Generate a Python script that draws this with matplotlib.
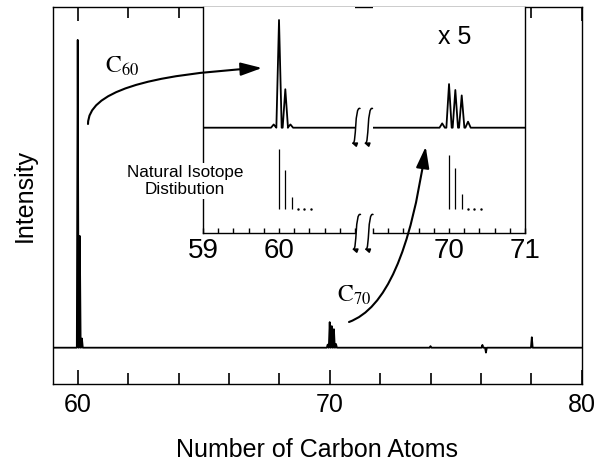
import matplotlib.pyplot as plt
from matplotlib.patches import FancyArrowPatch
from matplotlib.path import Path
from matplotlib.ticker import MultipleLocator

plt.rcParams['font.family'] = ['Liberation Sans', 'DejaVu Sans']
plt.rcParams['mathtext.fontset'] = 'stix'

# main spectrum, peaks on a flat baseline (C60 peak = 100)
main_pos = [60.0, 60.083, 60.167, 69.92, 70.0, 70.083, 70.167, 70.25, 74.0, 76.06, 76.2, 78.02]
main_height = [100, 36.3, 3.0, 1.0, 8.3, 7.0, 6.0, 1.2, 0.5, 0.9, -1.6, 3.4]

# inset trace, x5 (C60 peak = 1)
c60_pos = [59.93, 60.0, 60.083, 60.15]
c60_height = [0.03, 1.0, 0.357, 0.03]
c70_pos = [69.91, 70.0, 70.083, 70.167, 70.25]
c70_height = [0.04, 0.405, 0.35, 0.30, 0.056]

# natural isotope distribution (0, 1, 2 x 13C)
iso60_pos = [60.0, 60.083, 60.167]
iso60_frac = [0.524, 0.340, 0.109]
iso70_pos = [70.0, 70.083, 70.167]
iso70_frac = [0.471, 0.357, 0.133]
iso60_more = [60.25, 60.333, 60.417]
iso70_more = [70.25, 70.333, 70.417]


def trace(pos, height, lo, hi, w):
    # baseline with a narrow peak at every position
    xs, ys = [lo], [0]
    for p, h in zip(pos, height):
        xs += [p - w, p, p + w]
        ys += [0, h, 0]
    xs.append(hi)
    ys.append(0)
    return xs, ys


def fpos(px, py):
    # reference pixel -> figure fraction
    return px / 612, 1 - py / 466


fig = plt.figure(figsize=(6.12, 4.66), dpi=100)

ax = fig.add_axes([0.0858, 0.1753, 0.8647, 0.8097])
x, y = trace(main_pos, main_height, 59, 80, 0.035)
ax.plot(x, y, color='k', lw=1.3)
ax.set_xlim(59, 80)
ax.set_ylim(-11.9, 110.7)
ax.set_xticks([60, 70, 80])
ax.xaxis.set_minor_locator(MultipleLocator(2))
ax.xaxis.set_ticks_position('both')
ax.set_yticks([])
ax.tick_params(axis='x', which='both', direction='in', top=True, bottom=True,
               labelsize=18, pad=6.5, width=1.2, color='k')
ax.tick_params(axis='x', which='major', length=10)
ax.tick_params(axis='x', which='minor', length=8)
for s in ax.spines.values():
    s.set_linewidth(1)
ax.set_xlabel('Number of Carbon Atoms', fontsize=18, labelpad=15)
ax.set_ylabel('Intensity', fontsize=18, labelpad=11)

# broken inset: two panels 59-61 and 69-71
inL = fig.add_axes([0.3317, 0.5, 0.2484, 0.485])
inR = fig.add_axes([0.6095, 0.5, 0.2484, 0.485])
panels = [
    (inL, (59, 61), c60_pos, c60_height, iso60_pos, iso60_frac, iso60_more, [59, 60]),
    (inR, (69, 71), c70_pos, c70_height, iso70_pos, iso70_frac, iso70_more, [70, 71]),
]
stick_base = -0.758
stick_scale = 1.077
for a, lim, pos, hts, ipos, ifrac, imore, ticks in panels:
    x, y = trace(pos, hts, lim[0], lim[1], 0.035)
    a.plot(x, y, color='k', lw=1.3)
    a.vlines(ipos, stick_base, [stick_base + stick_scale * f for f in ifrac],
             color='k', lw=0.9)
    a.plot(imore, [stick_base] * len(imore), 'k.', ms=1.5)
    a.set_xlim(*lim)
    a.set_ylim(-0.978, 1.121)
    a.set_xticks(ticks)
    a.xaxis.set_minor_locator(MultipleLocator(0.2))
    a.set_yticks([])
    a.tick_params(axis='x', which='both', direction='in', length=3.6,
                  labelsize=20, pad=3.5, width=1)
    a.spines['top'].set_visible(False)
    for s in a.spines.values():
        s.set_linewidth(1)
inL.spines['right'].set_visible(False)
inR.spines['left'].set_visible(False)

# break marks
for cx, cy in [(355.5, 125.5), (368, 125.5), (356, 231.5), (368.5, 231.5)]:
    verts = [fpos(cx + 4.5, cy - 17), fpos(cx - 1, cy - 20),
             fpos(cx + 1, cy + 19), fpos(cx - 4.5, cy + 17)]
    sq = FancyArrowPatch(path=Path(verts, [Path.MOVETO, Path.CURVE4, Path.CURVE4, Path.CURVE4]),
                         arrowstyle='-|>,head_length=3,head_width=1.2',
                         transform=fig.transFigure, color='k', lw=1.1)
    fig.add_artist(sq)

# labels and arrows
fig.text(*fpos(455, 37), 'x 5', fontsize=18, ha='center', va='center')
fig.text(*fpos(185, 181), 'Natural Isotope\nDistibution', fontsize=12.3,
         ha='center', va='center', zorder=5,
         bbox=dict(facecolor='white', edgecolor='none', pad=1))
fig.text(*fpos(122, 66), r'$\mathrm{C}_{60}$', fontsize=17, ha='center', va='center')
fig.text(*fpos(354.5, 295), r'$\mathrm{C}_{70}$', fontsize=17, ha='center', va='center')

arr60 = FancyArrowPatch(fpos(88, 124), fpos(262, 68), transform=fig.transFigure,
                        connectionstyle='angle3,angleA=90,angleB=3',
                        arrowstyle='-|>,head_length=1.3,head_width=0.4',
                        mutation_scale=10, shrinkA=0, shrinkB=0, color='k', lw=1.5)
arr70 = FancyArrowPatch(fpos(349, 322), fpos(425.7, 146.7), transform=fig.transFigure,
                        connectionstyle='angle3,angleA=20,angleB=82',
                        arrowstyle='-|>,head_length=1.3,head_width=0.4',
                        mutation_scale=10, shrinkA=0, shrinkB=0, color='k', lw=1.5)
fig.add_artist(arr60)
fig.add_artist(arr70)

fig.savefig('out.png', dpi=100)
